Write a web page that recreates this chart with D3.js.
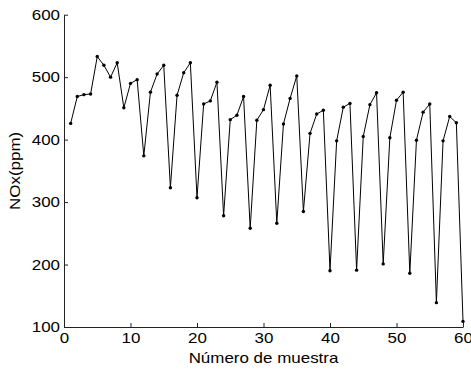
<!DOCTYPE html>
<html>
<head>
<meta charset="utf-8">
<script src="https://cdn.jsdelivr.net/npm/d3@7"></script>
<style>
  body { margin: 0; background: #fff; }
  text { font-family: "Liberation Sans", Arial, sans-serif; font-size: 15px; fill: #000; }
</style>
</head>
<body>
<div id="chart"></div>
<script>
// sample numbers 1..60 and the NOx readings
const muestra = d3.range(1, 61);
const nox = [426, 469, 472, 473, 533, 519, 500, 523, 451, 490,
             496, 374, 476, 505, 519, 323, 471, 507, 523, 307,
             457, 462, 492, 278, 432, 439, 469, 258, 431, 448,
             487, 266, 425, 466, 502, 285, 410, 441, 447, 190,
             398, 452, 458, 191, 405, 456, 475, 201, 403, 463,
             476, 186, 399, 444, 457, 139, 398, 437, 427, 109];
const xTicks = [0, 10, 20, 30, 40, 50, 60];
const yTicks = [100, 200, 300, 400, 500, 600];

const width = 471, height = 371;
const margin = {top: 14.7, right: 8, bottom: 44, left: 64};
const sx = 1.13; // text in the picture is a bit wider than tall

const svg = d3.select("#chart").append("svg")
    .attr("width", width)
    .attr("height", height);

const x = d3.scaleLinear().domain([0, 60]).range([margin.left, width - margin.right]);
const y = d3.scaleLinear().domain([100, 600]).range([height - margin.bottom, margin.top]);

// axes, ticks pointing inward
const xAxis = svg.append("g")
    .attr("transform", "translate(0," + y(100) + ")")
    .call(d3.axisBottom(x).tickValues(xTicks).tickSizeInner(-4).tickSizeOuter(0).tickPadding(5));
const yAxis = svg.append("g")
    .attr("transform", "translate(" + x(0) + ",0)")
    .call(d3.axisLeft(y).tickValues(yTicks).tickSizeInner(-4).tickSizeOuter(0).tickPadding(4));

svg.selectAll(".domain, .tick line").attr("stroke", "#222").attr("stroke-width", 1);
svg.selectAll(".tick text").attr("font-size", 15).attr("font-family", null).attr("fill", "#000");

// stretch tick labels sideways
xAxis.selectAll(".tick text").attr("transform", "scale(" + sx + ",1)");
yAxis.selectAll(".tick text").each(function() {
  const t = d3.select(this);
  const xx = +t.attr("x");
  t.attr("transform", "translate(" + xx + ",0) scale(" + sx + ",1)").attr("x", 0);
});

const line = d3.line()
    .x((d, i) => x(muestra[i]))
    .y(d => y(d));

svg.append("path")
    .datum(nox)
    .attr("fill", "none")
    .attr("stroke", "#000")
    .attr("stroke-width", 1)
    .attr("d", line);

svg.selectAll("circle.pt")
    .data(nox)
    .enter()
    .append("circle")
    .attr("class", "pt")
    .attr("cx", (d, i) => x(muestra[i]))
    .attr("cy", d => y(d))
    .attr("r", 1.7)
    .attr("fill", "#000");

svg.append("text")
    .attr("transform", "translate(" + ((x(0) + x(60)) / 2) + "," + (height - 8) + ") scale(" + sx + ",1)")
    .attr("text-anchor", "middle")
    .text("Número de muestra");

svg.append("text")
    .attr("transform", "translate(20," + ((y(100) + y(600)) / 2) + ") rotate(-90) scale(" + sx + ",1)")
    .attr("text-anchor", "middle")
    .text("NOx(ppm)");
</script>
</body>
</html>
